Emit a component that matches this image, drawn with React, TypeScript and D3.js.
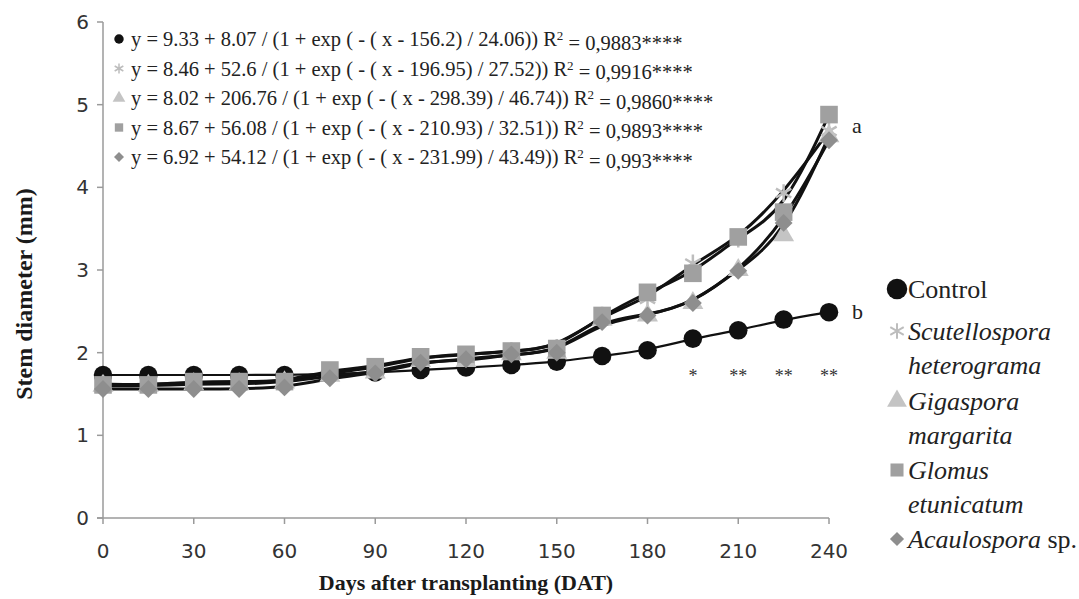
import React from 'react';
import * as d3 from 'd3';

const days = [0, 15, 30, 45, 60, 75, 90, 105, 120, 135, 150, 165, 180, 195, 210, 225, 240];
const control = [1.73, 1.73, 1.73, 1.73, 1.73, 1.74, 1.76, 1.79, 1.82, 1.85, 1.89, 1.96, 2.03, 2.17, 2.27, 2.40, 2.49];
const scutellospora = [1.62, 1.61, 1.64, 1.64, 1.65, 1.76, 1.81, 1.95, 1.97, 2.02, 2.06, 2.45, 2.65, 3.08, 3.38, 3.93, 4.68];
const gigaspora = [1.60, 1.60, 1.62, 1.62, 1.64, 1.72, 1.76, 1.90, 1.90, 1.98, 2.00, 2.40, 2.45, 2.60, 3.00, 3.42, 4.62];
const glomus = [1.61, 1.61, 1.65, 1.65, 1.65, 1.79, 1.83, 1.95, 1.98, 2.02, 2.05, 2.45, 2.73, 2.96, 3.40, 3.70, 4.88];
const acaulospora = [1.56, 1.56, 1.56, 1.56, 1.58, 1.69, 1.75, 1.88, 1.92, 1.98, 2.00, 2.37, 2.45, 2.60, 2.99, 3.57, 4.57];

const xTicks = [0, 30, 60, 90, 120, 150, 180, 210, 240];
const yTicks = [0, 1, 2, 3, 4, 5, 6];

const equations = [
  'y = 9.33 + 8.07 / (1 + exp ( - ( x - 156.2) / 24.06)) R',
  'y = 8.46 + 52.6 / (1 + exp ( - ( x - 196.95) / 27.52)) R',
  'y = 8.02 + 206.76 / (1 + exp ( - ( x - 298.39) / 46.74)) R',
  'y = 8.67 + 56.08 / (1 + exp ( - ( x - 210.93) / 32.51)) R',
  'y = 6.92 + 54.12 / (1 + exp ( - ( x - 231.99) / 43.49)) R',
];
const rSquared = ['0,9883', '0,9916', '0,9860', '0,9893', '0,993'];

const significance = [
  { day: 195, mark: '*' },
  { day: 210, mark: '**' },
  { day: 225, mark: '**' },
  { day: 240, mark: '**' },
];

type Series = {
  name: string;
  lines: string[];
  values: number[];
  symbol: d3.SymbolType;
  color: string;
  size: number;
  rotate?: number;
  stroke?: boolean;
  lineWidth: number;
};

const series: Series[] = [
  { name: 'Control', lines: ['Control'], values: control, symbol: d3.symbolCircle, color: '#111', size: 270, lineWidth: 2.2 },
  { name: 'Scutellospora', lines: ['Scutellospora', 'heterograma'], values: scutellospora, symbol: d3.symbolAsterisk, color: '#bdbdbd', size: 220, stroke: true, lineWidth: 3 },
  { name: 'Gigaspora', lines: ['Gigaspora', 'margarita'], values: gigaspora, symbol: d3.symbolTriangle, color: '#c4c4c4', size: 190, lineWidth: 3 },
  { name: 'Glomus', lines: ['Glomus', 'etunicatum'], values: glomus, symbol: d3.symbolSquare, color: '#a0a0a0', size: 310, lineWidth: 3 },
  { name: 'Acaulospora', lines: ['Acaulospora'], values: acaulospora, symbol: d3.symbolSquare, rotate: 45, color: '#8e8e8e', size: 160, lineWidth: 3 },
];

const legendRows = [289, 331, 401, 470, 539];

const W = 1079;
const H = 599;

export default function App() {
  const x = d3.scaleLinear().domain([0, 240]).range([103, 829]);
  const y = d3.scaleLinear().domain([0, 6]).range([518, 22]);
  const line = d3.line<number>()
    .x((_, i) => x(days[i]))
    .y((d) => y(d))
    .curve(d3.curveBasis);

  const serif = "'Liberation Serif', 'Times New Roman', serif";
  const sans = "'DejaVu Sans', Verdana, sans-serif";

  const marker = (s: Series, size: number) => d3.symbol().type(s.symbol).size(size)() as string;
  const place = (s: Series, cx: number, cy: number) =>
    `translate(${cx},${cy})${s.rotate ? ` rotate(${s.rotate})` : ''}`;

  return (
    <svg width={W} height={H} style={{ position: 'absolute', left: 0, top: 0, background: 'white', fontFamily: serif }}>
      {/* axes */}
      <g stroke="#9a9a9a" strokeWidth={1.5}>
        <line x1={x(0)} x2={x(0)} y1={y(6)} y2={y(0)} />
        <line x1={x(0) - 6} x2={x(240)} y1={y(0)} y2={y(0)} />
        {yTicks.map((t) => (
          <line key={t} x1={x(0) - 6} x2={x(0)} y1={y(t)} y2={y(t)} />
        ))}
        {xTicks.map((t) => (
          <line key={t} x1={x(t)} x2={x(t)} y1={y(0)} y2={y(0) + 6} />
        ))}
      </g>
      <g fill="#333" style={{ fontFamily: sans, fontSize: 20 }}>
        {yTicks.map((t) => (
          <text key={t} x={x(0) - 14} y={y(t)} dy="0.35em" textAnchor="end">{t}</text>
        ))}
        {xTicks.map((t) => (
          <text key={t} x={x(t)} y={y(0) + 40} textAnchor="middle">{t}</text>
        ))}
      </g>
      <text
        transform="translate(32,294) rotate(-90)"
        textAnchor="middle"
        fill="#1a1a1a"
        style={{ fontFamily: serif, fontWeight: 'bold', fontSize: 24 }}
      >
        Stem diameter (mm)
      </text>
      <text x={466} y={590} textAnchor="middle" fill="#1a1a1a" style={{ fontFamily: serif, fontWeight: 'bold', fontSize: 22 }}>
        Days after transplanting (DAT)
      </text>

      {/* trend lines */}
      {series.map((s) => (
        <path key={s.name} d={line(s.values) as string} fill="none" stroke="#111" strokeWidth={s.lineWidth} />
      ))}

      {/* markers */}
      {series.map((s) => (
        <g key={s.name}>
          {s.values.map((v, i) => (
            <path
              key={i}
              d={marker(s, s.size)}
              transform={place(s, x(days[i]), y(v))}
              fill={s.stroke ? 'none' : s.color}
              stroke={s.stroke ? s.color : 'none'}
              strokeWidth={s.stroke ? 2.5 : 0}
            />
          ))}
        </g>
      ))}

      {/* significance */}
      <g fill="#333" textAnchor="middle" style={{ fontFamily: serif, fontSize: 18 }}>
        {significance.map((d) => (
          <text key={d.day} x={x(d.day)} y={y(1.75)} dy="0.5em">{d.mark}</text>
        ))}
      </g>
      <text x={852} y={y(4.75)} dy="0.35em" fill="#222" style={{ fontFamily: serif, fontSize: 22 }}>a</text>
      <text x={852} y={y(2.5)} dy="0.35em" fill="#222" style={{ fontFamily: serif, fontSize: 22 }}>b</text>

      {/* equations */}
      {series.map((s, i) => {
        const cy = 39 + i * 29.5;
        return (
          <g key={s.name}>
            <path
              d={marker(s, s.stroke ? 70 : s.rotate ? 50 : 70)}
              transform={place(s, 119, cy)}
              fill={s.stroke ? 'none' : s.color}
              stroke={s.stroke ? s.color : 'none'}
              strokeWidth={s.stroke ? 1.5 : 0}
            />
            <text x={131} y={cy} dy="0.35em" fill="#222" style={{ fontFamily: serif, fontSize: 20.5 }}>
              {equations[i]}
              <tspan dy="-0.45em" style={{ fontSize: 13 }}>2</tspan>
              <tspan dy="0.45em">{` = ${rSquared[i]}****`}</tspan>
            </text>
          </g>
        );
      })}

      {/* legend */}
      {series.map((s, i) => {
        const rowY = legendRows[i];
        return (
          <g key={s.name}>
            <path
              d={marker(s, i === 0 ? 330 : s.rotate ? 100 : 170)}
              transform={place(s, 897, rowY)}
              fill={s.stroke ? 'none' : s.color}
              stroke={s.stroke ? s.color : 'none'}
              strokeWidth={s.stroke ? 2 : 0}
            />
            {s.lines.map((l, j) => (
              <text
                key={j}
                x={908}
                y={rowY + j * 34}
                dy="0.35em"
                fill="#222"
                style={{ fontFamily: serif, fontSize: 26, fontStyle: i === 0 ? 'normal' : 'italic' }}
              >
                {l}
                {s.name === 'Acaulospora' ? <tspan style={{ fontStyle: 'normal' }}> sp.</tspan> : null}
              </text>
            ))}
          </g>
        );
      })}
    </svg>
  );
}
